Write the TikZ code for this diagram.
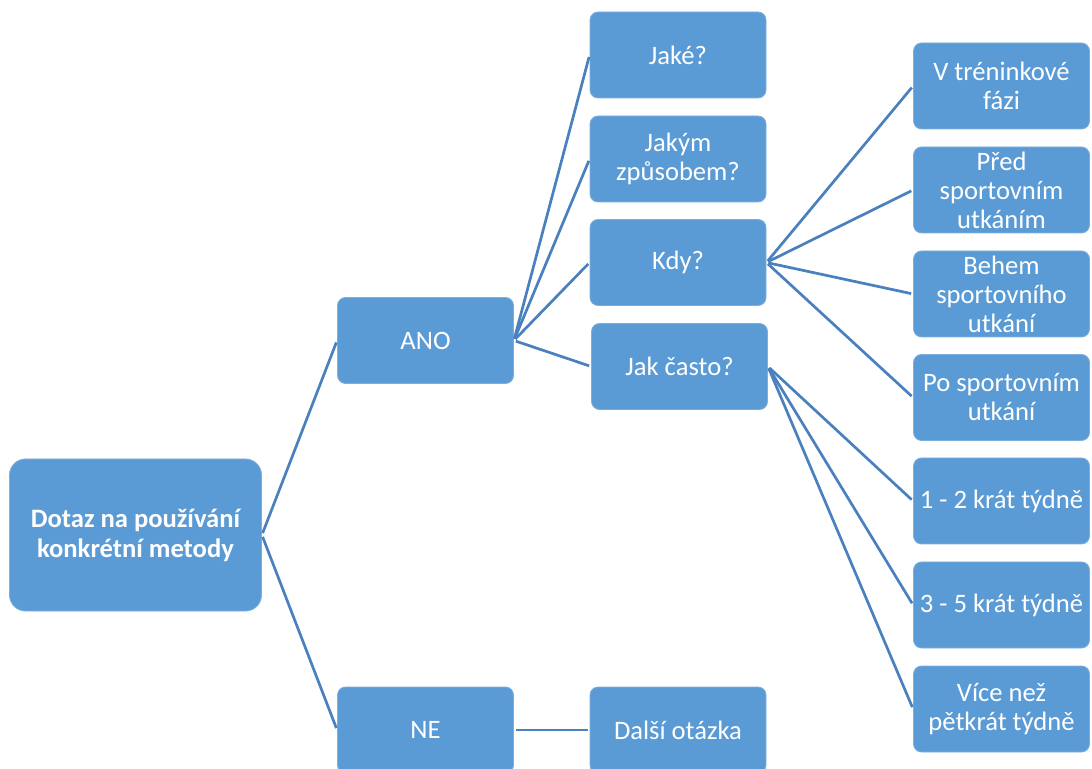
\documentclass[tikz,border=0pt]{standalone}
\usepackage{fontspec}
\setmainfont{Carlito}
\usepackage{tikz}
\usetikzlibrary{positioning}

\definecolor{boxblue}{HTML}{5B9BD5}
\definecolor{lineblue}{HTML}{4A80BD}

\tikzset{
  box/.style={fill=boxblue,draw=boxblue!80!white,line width=0.4pt,rounded corners=4pt,text=white,align=center,
    inner sep=0pt,minimum width=88pt,minimum height=43pt,font=\fontsize{13.3pt}{14.5pt}\selectfont},
  rootbox/.style={box,rounded corners=8pt,minimum width=126pt,minimum height=76pt,font=\fontsize{13.3pt}{15pt}\selectfont\bfseries},
  link/.style={draw=lineblue,line width=1.35pt,shorten <=1pt,shorten >=1pt}
}

\begin{document}
\begin{tikzpicture}[x=0.5pt,y=-0.5pt]
            \useasboundingbox (0,0) rectangle (1092,769);
            % first level
            \node[rootbox] (dotaz) at (135.5,535) {Dotaz na používání\\konkrétní metody};
            \node[box] (ano) at (425.5,340.5) {ANO};
            \node[box] (ne) at (425.5,730) {NE};
            % answers to ANO
            \node[box] (jake) at (678,55) {Jaké?};
            \node[box] (jakym) at (678,159) {Jakým\\způsobem?};
            \node[box] (kdy) at (678,262.5) {Kdy?};
            \node[box] (jakcasto) at (679.5,366.5) {Jak často?};
            \node[box] (dalsi) at (678,730) {Další otázka};
            % right column
            \node[box] (trenink) at (1001.5,86) {V tréninkové\\fázi};
            \node[box] (pred) at (1001.5,190) {Před\\sportovním\\utkáním};
            \node[box] (behem) at (1001.5,294) {Behem\\sportovního\\utkání};
            \node[box] (po) at (1001.5,397.5) {Po sportovním\\utkání};
            \node[box] (jedna) at (1001.5,501) {1 - 2 krát týdně};
            \node[box] (tri) at (1001.5,605) {3 - 5 krát týdně};
            \node[box] (vice) at (1001.5,709) {Více než\\pětkrát týdně};
            % connectors
            \draw[link] (dotaz.east) -- (ano.west);
            \draw[link] (dotaz.east) -- (ne.west);
            \draw[link] (ne.east) -- (dalsi.west);
            \foreach \n in {jake,jakym,kdy,jakcasto}
                \draw[link] (ano.east) -- (\n.west);
            \foreach \n in {trenink,pred,behem,po}
                \draw[link] (kdy.east) -- (\n.west);
            \foreach \n in {jedna,tri,vice}
                \draw[link] (jakcasto.east) -- (\n.west);
        \end{tikzpicture}
\end{document}
